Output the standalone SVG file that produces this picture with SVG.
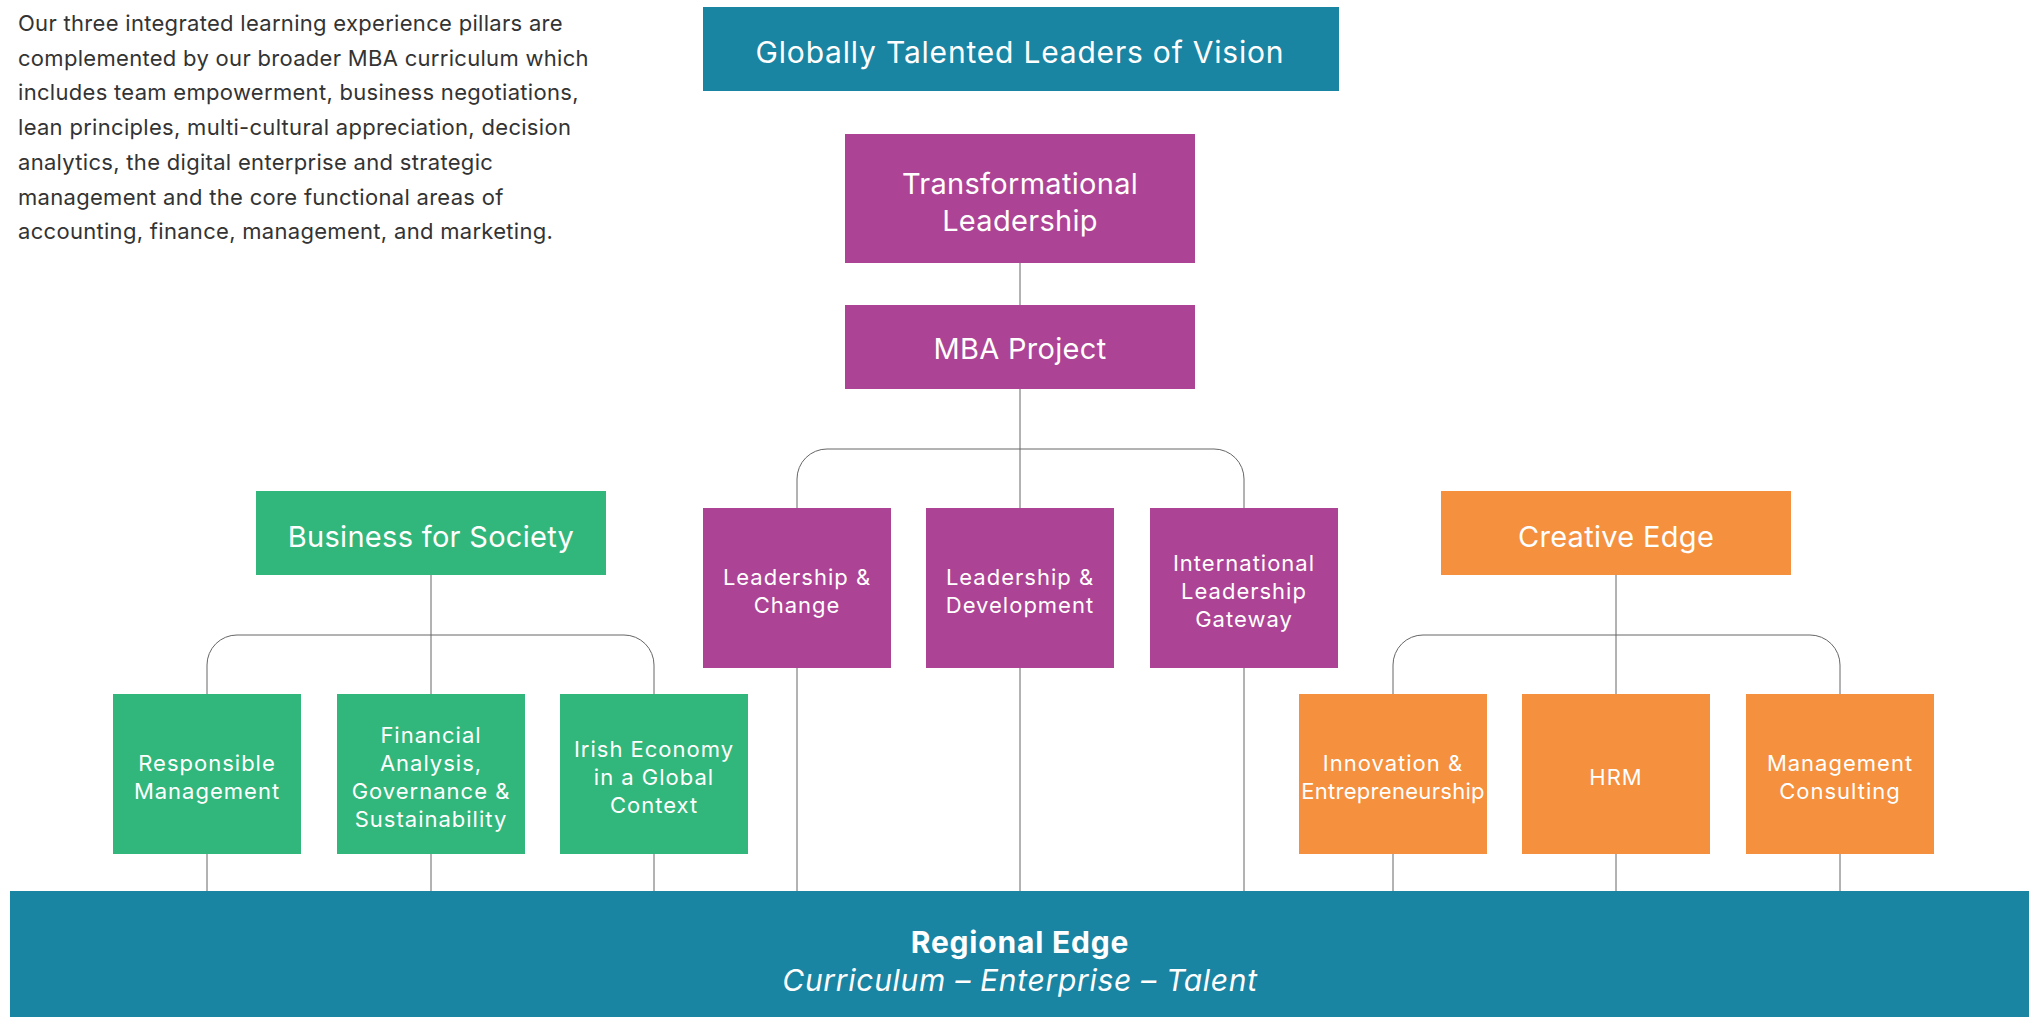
<svg xmlns="http://www.w3.org/2000/svg" width="2035" height="1017" viewBox="0 0 2035 1017">
<style>
.teal{fill:#1a84a3}
.purple{fill:#ad4395}
.green{fill:#31b77b}
.orange{fill:#f5903e}
text{font-family:Inter,"Noto Sans","Liberation Sans",sans-serif;fill:#fff;text-anchor:middle}
.big{font-size:29px;letter-spacing:0.3px}
.small{font-size:22px;letter-spacing:1px}
.para{font-size:22px;letter-spacing:0.3px;fill:#333;text-anchor:start}
.conn{fill:none;stroke:#666;stroke-width:1}
</style>
<rect width="2035" height="1017" fill="#fff"/>
<text class="para" x="18"><tspan x="18" y="31">Our three integrated learning experience pillars are</tspan><tspan x="18" y="65.7">complemented by our broader MBA curriculum which</tspan><tspan x="18" y="100.4">includes team empowerment, business negotiations,</tspan><tspan x="18" y="135">lean principles, multi-cultural appreciation, decision</tspan><tspan x="18" y="169.8">analytics, the digital enterprise and strategic</tspan><tspan x="18" y="204.5">management and the core functional areas of</tspan><tspan x="18" y="239.2">accounting, finance, management, and marketing.</tspan></text>
<g id="connectors">
<path class="conn" d="M1020 263V305"/>
<path class="conn" d="M1020 389V508"/>
<path class="conn" d="M797 508V479A30 30 0 0 1 827 449H1214A30 30 0 0 1 1244 479V508"/>
<path class="conn" d="M797 668V891M1020 668V891M1244 668V891"/>
<path class="conn" d="M431 575V694"/>
<path class="conn" d="M207 694V665A30 30 0 0 1 237 635H624A30 30 0 0 1 654 665V694"/>
<path class="conn" d="M207 854V891M431 854V891M654 854V891"/>
<path class="conn" d="M1616 575V694"/>
<path class="conn" d="M1393 694V665A30 30 0 0 1 1423 635H1810A30 30 0 0 1 1840 665V694"/>
<path class="conn" d="M1393 854V891M1616 854V891M1840 854V891"/>
</g>
<g id="globally"><rect class="teal" x="703" y="7" width="636" height="84"/><text style="font-size:30px;letter-spacing:0.8px" x="1020" y="63">Globally Talented Leaders of Vision</text></g>
<g id="transformational"><rect class="purple" x="845" y="134" width="350" height="129"/><text class="big" x="1020" y="194">Transformational</text><text class="big" x="1020" y="231">Leadership</text></g>
<g id="mba-project"><rect class="purple" x="845" y="305" width="350" height="84"/><text class="big" x="1020" y="359">MBA Project</text></g>
<g id="leadership-change"><rect class="purple" x="703" y="508" width="188" height="160"/><text class="small" x="797" y="585">Leadership &amp;</text><text class="small" x="797" y="613">Change</text></g>
<g id="leadership-development"><rect class="purple" x="926" y="508" width="188" height="160"/><text class="small" x="1020" y="585">Leadership &amp;</text><text class="small" x="1020" y="613">Development</text></g>
<g id="international"><rect class="purple" x="1150" y="508" width="188" height="160"/><text class="small" x="1244" y="571">International</text><text class="small" x="1244" y="599">Leadership</text><text class="small" x="1244" y="627">Gateway</text></g>
<g id="business-society"><rect class="green" x="256" y="491" width="350" height="84"/><text class="big" x="431" y="547">Business for Society</text></g>
<g id="responsible"><rect class="green" x="113" y="694" width="188" height="160"/><text class="small" x="207" y="771">Responsible</text><text class="small" x="207" y="799">Management</text></g>
<g id="financial"><rect class="green" x="337" y="694" width="188" height="160"/><text class="small" x="431" y="743">Financial</text><text class="small" x="431" y="771">Analysis,</text><text class="small" x="431" y="799">Governance &amp;</text><text class="small" x="431" y="827">Sustainability</text></g>
<g id="irish"><rect class="green" x="560" y="694" width="188" height="160"/><text class="small" x="654" y="757">Irish Economy</text><text class="small" x="654" y="785">in a Global</text><text class="small" x="654" y="813">Context</text></g>
<g id="creative-edge"><rect class="orange" x="1441" y="491" width="350" height="84"/><text class="big" x="1616" y="547">Creative Edge</text></g>
<g id="innovation"><rect class="orange" x="1299" y="694" width="188" height="160"/><text class="small" x="1393" y="771">Innovation &amp;</text><text class="small" x="1393" y="799" style="letter-spacing:0.3px">Entrepreneurship</text></g>
<g id="hrm"><rect class="orange" x="1522" y="694" width="188" height="160"/><text class="small" x="1616" y="785">HRM</text></g>
<g id="consulting"><rect class="orange" x="1746" y="694" width="188" height="160"/><text class="small" x="1840" y="771">Management</text><text class="small" x="1840" y="799">Consulting</text></g>
<g id="regional-edge"><rect class="teal" x="10" y="891" width="2019" height="126"/><text style="font-size:30px;font-weight:700;letter-spacing:0.8px" x="1020" y="953">Regional Edge</text><text style="font-size:30px;font-style:italic;letter-spacing:0.7px" x="1020" y="991">Curriculum – Enterprise – Talent</text></g>
</svg>
